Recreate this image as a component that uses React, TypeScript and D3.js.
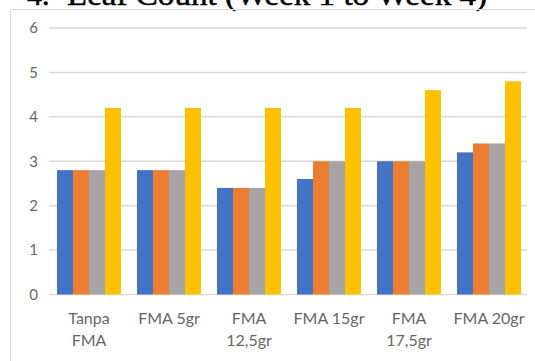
import React from "react";
import * as d3 from "d3";

const categories = ["Tanpa FMA", "FMA 5gr", "FMA 12,5gr", "FMA 15gr", "FMA 17,5gr", "FMA 20gr"];
const categoryLines = [["Tanpa", "FMA"], ["FMA 5gr"], ["FMA", "12,5gr"], ["FMA 15gr"], ["FMA", "17,5gr"], ["FMA 20gr"]];
const seriesNames = ["Minggu 1", "Minggu 2", "Minggu 3", "Minggu 4"];
const week1 = [2.8, 2.8, 2.4, 2.6, 3.0, 3.2];
const week2 = [2.8, 2.8, 2.4, 3.0, 3.0, 3.4];
const week3 = [2.8, 2.8, 2.4, 3.0, 3.0, 3.4];
const week4 = [4.2, 4.2, 4.2, 4.2, 4.6, 4.8];
const yTicks = [0, 1, 2, 3, 4, 5, 6];
const colors = ["#4472C4", "#ED7D31", "#A5A5A5", "#FFC000"];
const titleText = "Leaf Count (Week 1 to Week 4)";

const W = 535;
const H = 361;

export default function App() {
  const series = [week1, week2, week3, week4];
  const x0 = d3.scaleBand<string>().domain(categories).range([49, 529]).paddingInner(0.2).paddingOuter(0.1);
  const x1 = d3.scaleBand<string>().domain(seriesNames).range([0, x0.bandwidth()]).padding(0);
  const y = d3.scaleLinear().domain([0, 6]).range([294.5, 28]);
  const labelFont = "Lato, 'Open Sans', sans-serif";
  const titleFont = "'Liberation Serif', 'Times New Roman', serif";

  return (
    <svg width={W} height={H} style={{ position: "absolute", left: 0, top: 0, background: "#fff" }}>
      <rect x={0} y={0} width={W} height={H} fill="#fff" />
      <text x={27} y={5} fontFamily={titleFont} fontSize={30} stroke="#000" strokeWidth={0.5} fill="#000">
        4.
      </text>
      <text x={67} y={5} fontFamily={titleFont} fontSize={30} stroke="#000" strokeWidth={0.5} textLength={420} lengthAdjust="spacingAndGlyphs" fill="#000">
        {titleText}
      </text>
      <path d={`M10.5,${H} V9.5 H${W}`} fill="none" stroke="#d9d9d9" strokeWidth={1} />
      {yTicks.map((t) => (
        <g key={t}>
          <line x1={49} x2={527} y1={y(t)} y2={y(t)} stroke="#d9d9d9" strokeWidth={1.5} />
          <text x={38} y={y(t)} dy="0.35em" textAnchor="end" fontFamily={labelFont} fontSize={15} fill="#666">
            {t}
          </text>
        </g>
      ))}
      {categories.map((c, i) => (
        <g key={c}>
          {series.map((s, j) => (
            <rect
              key={j}
              x={(x0(c) ?? 0) + (x1(seriesNames[j]) ?? 0)}
              y={y(s[i])}
              width={x1.bandwidth()}
              height={y(0) - y(s[i])}
              fill={colors[j]}
            />
          ))}
          {categoryLines[i].map((ln, k) => (
            <text
              key={k}
              x={(x0(c) ?? 0) + x0.bandwidth() / 2}
              y={318 + k * 22}
              dy="0.35em"
              textAnchor="middle"
              fontFamily={labelFont}
              fontSize={16}
              fill="#666"
            >
              {ln}
            </text>
          ))}
        </g>
      ))}
    </svg>
  );
}
